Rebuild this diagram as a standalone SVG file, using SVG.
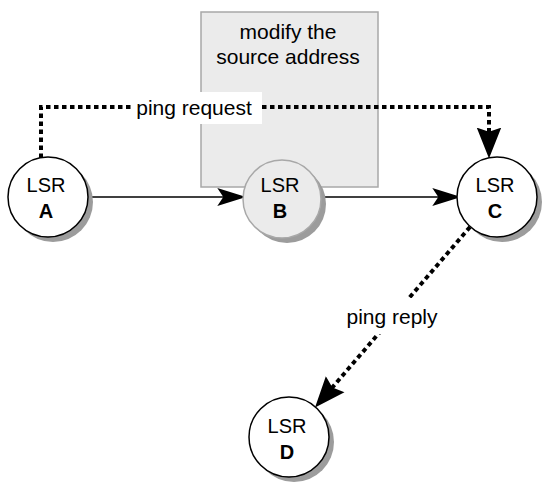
<svg xmlns="http://www.w3.org/2000/svg" width="544" height="484" viewBox="0 0 544 484">
  <style>
    .txt { font-family: "Liberation Sans", Arial, sans-serif; fill: #000; text-anchor: middle; }
    .lbl { font-size: 21px; }
    .lsr { font-size: 20px; }
    .id { font-size: 20px; font-weight: bold; }
    .shadow { fill: #9c9c9c; stroke: none; }
    .node { fill: #ffffff; stroke: #000; stroke-width: 1.5; }
    .nodeg { fill: #ebebeb; stroke: #a8a8a8; stroke-width: 1.5; }
    .solid { fill: none; stroke: #000; stroke-width: 1.5; }
    .dotted { fill: none; stroke: #000; stroke-width: 4; stroke-dasharray: 4.5 3.5; }
  </style>
  <defs>
    <marker id="arrS" markerUnits="userSpaceOnUse" markerWidth="30" markerHeight="20" viewBox="0 -8 25 16" refX="6" refY="0" orient="auto">
      <path d="M0,-7.5 L24,0 L0,7.5 L5,0 Z" fill="#000"/>
    </marker>
    <marker id="arrD" markerUnits="userSpaceOnUse" markerWidth="32" markerHeight="26" viewBox="0 -12 30 24" refX="6" refY="0" orient="auto">
      <path d="M0,-11.5 L29,0 L0,11.5 L4,0 Z" fill="#000"/>
    </marker>
  </defs>

  <g id="modify-box">
    <rect x="201" y="12" width="177" height="175" fill="#ebebeb" stroke="#a8a8a8" stroke-width="1.5"/>
    <text class="txt lbl" x="288" y="39">modify the</text>
    <text class="txt lbl" x="288" y="64">source address</text>
  </g>

  <g id="connectors">
    <path class="solid" d="M88,197 L224.5,197" marker-end="url(#arrS)"/>
    <path class="solid" d="M321,197 L439.5,197" marker-end="url(#arrS)"/>
    <path class="dotted" d="M41,158 L41,107 L489,107 L489,134" marker-end="url(#arrD)"/>
    <path class="dotted" d="M470,227 L331,389" marker-end="url(#arrD)"/>
    <g id="label-ping-request">
      <rect x="132" y="92" width="130" height="32" fill="#ffffff"/>
      <text class="txt lbl" x="194" y="115">ping request</text>
    </g>
    <g id="label-ping-reply">
      <rect x="342" y="298" width="99" height="36" fill="#ffffff"/>
      <text class="txt lbl" x="392" y="324">ping reply</text>
    </g>
  </g>

  <g id="node-A">
    <circle class="shadow" cx="53" cy="202" r="40"/>
    <circle class="node" cx="48" cy="197" r="40"/>
    <text class="txt lsr" x="46" y="192">LSR</text>
    <text class="txt id" x="46" y="218">A</text>
  </g>
  <g id="node-B">
    <circle class="shadow" cx="287" cy="204" r="39"/>
    <circle class="nodeg" cx="282" cy="199" r="39"/>
    <text class="txt lsr" x="280" y="192">LSR</text>
    <text class="txt id" x="280" y="218">B</text>
  </g>
  <g id="node-C">
    <circle class="shadow" cx="502" cy="202" r="40"/>
    <circle class="node" cx="497" cy="197" r="40"/>
    <text class="txt lsr" x="495" y="192">LSR</text>
    <text class="txt id" x="495" y="218">C</text>
  </g>
  <g id="node-D">
    <circle class="shadow" cx="294" cy="442" r="40"/>
    <circle class="node" cx="289" cy="437" r="40"/>
    <text class="txt lsr" x="287" y="433">LSR</text>
    <text class="txt id" x="287" y="459">D</text>
  </g>
</svg>
